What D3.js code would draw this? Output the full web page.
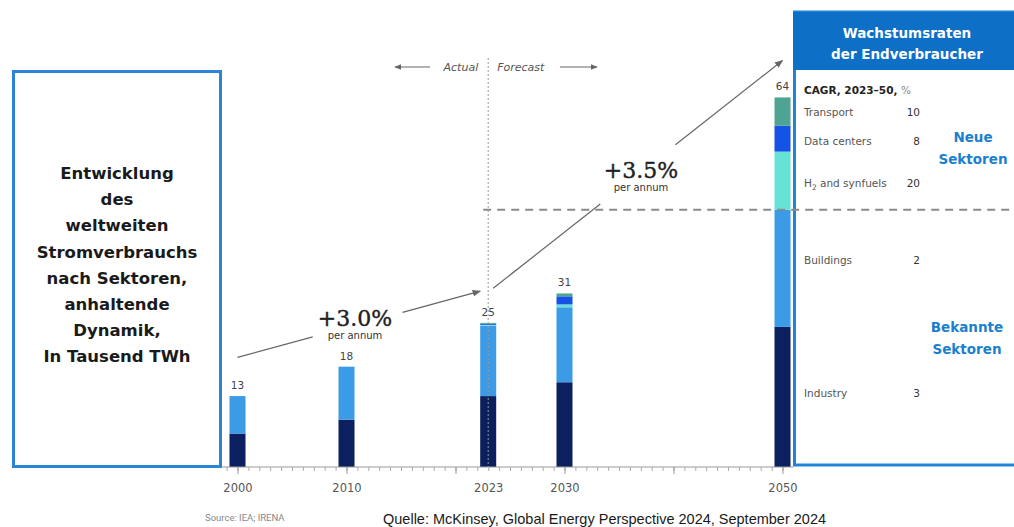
<!DOCTYPE html>
<html><head><meta charset="utf-8">
<script src="https://cdn.jsdelivr.net/npm/d3@7"></script>
<style>
html,body{margin:0;padding:0;background:#fff;}
svg{display:block;}
</style></head>
<body>
<svg id="c" width="1014" height="527"></svg>
<script>
// ---- data ----
const years = [2000, 2010, 2023, 2030, 2050];
const totals = [13, 18, 25, 31, 64];
const sectorNames = ["Industry", "Buildings", "H2 and synfuels", "Data centers", "Transport"];
const industry = [5.8, 8.2, 12.3, 14.7, 24.3];
const buildings = [6.5, 9.2, 12.2, 13.0, 20.3];
const h2Synfuels = [0, 0, 0.15, 0.5, 10.1];
const dataCenters = [0, 0, 0.2, 1.4, 4.5];
const transport = [0, 0, 0.15, 0.5, 4.9];
const sectorColors = ["#0c1f5f", "#3b9be6", "#66e3d6", "#1553e6", "#4fa392"];
const tickYears = [2000, 2010, 2023, 2030, 2050];
const majorTickYears = [2000, 2010, 2020, 2030, 2040, 2050];
const cagrLabels = ["Transport", "Data centers", "H2 and synfuels", "Buildings", "Industry"];
const cagrValues = [10, 8, 20, 2, 3];
const growthLabels = ["+3.0%", "+3.5%"];
const titleLines = ["Entwicklung", "des", "weltweiten", "Stromverbrauchs", "nach Sektoren,", "anhaltende", "Dynamik,", "In Tausend TWh"];

const series = [industry, buildings, h2Synfuels, dataCenters, transport];
const table = years.map((y, i) => {
  const o = {year: y, total: totals[i]};
  sectorNames.forEach((s, k) => o[s] = series[k][i]);
  return o;
});

const svg = d3.select("#c");
const x = d3.scaleLinear().domain([2000, 2050]).range([237.5, 782.5]);
const y = d3.scaleLinear().domain([0, 64]).range([467, 98]);
const color = d3.scaleOrdinal().domain(sectorNames).range(sectorColors);
const barW = 16;
const dv = "'DejaVu Sans', Verdana, sans-serif";

// ---- left title box ----
svg.append("rect").attr("x", 13.5).attr("y", 71.5).attr("width", 207).attr("height", 395)
  .attr("fill", "#fff").attr("stroke", "#2a86d4").attr("stroke-width", 3);
svg.append("g").selectAll("text").data(titleLines).join("text")
  .attr("x", 117).attr("y", (d, i) => 179 + i * 26.2)
  .attr("text-anchor", "middle")
  .style("font-family", dv).style("font-weight", 700)
  .style("font-size", "16.5px").attr("fill", "#1a1a1a").text(d => d);

// ---- right box ----
const rb = svg.append("g");
rb.append("rect").attr("x", 794.5).attr("y", 12).attr("width", 225).attr("height", 453)
  .attr("fill", "#fff").attr("stroke", "#1f84d6").attr("stroke-width", 3);
rb.append("rect").attr("x", 793).attr("y", 12).attr("width", 221).attr("height", 58).attr("fill", "#0d6fc5");
rb.append("text").attr("x", 907).attr("y", 38).attr("text-anchor", "middle")
  .style("font-family", dv).style("font-weight", 700).style("font-size", "13.5px")
  .attr("fill", "#fff").text("Wachstumsraten");
rb.append("text").attr("x", 907).attr("y", 59).attr("text-anchor", "middle")
  .style("font-family", dv).style("font-weight", 700).style("font-size", "13.5px")
  .attr("fill", "#fff").text("der Endverbraucher");

// ---- stacked bars ----
const stack = d3.stack().keys(sectorNames)(table);
svg.append("g").selectAll("g").data(stack).join("g")
  .attr("fill", d => color(d.key))
  .selectAll("rect").data(d => d).join("rect")
  .attr("x", d => x(d.data.year) - barW / 2)
  .attr("width", barW)
  .attr("y", d => y(d[1]))
  .attr("height", d => Math.max(0, y(d[0]) - y(d[1])));

// value labels
svg.append("g").selectAll("text").data(table).join("text")
  .attr("x", d => x(d.year)).attr("y", d => y(d3.sum(sectorNames, s => d[s])) - 7)
  .attr("text-anchor", "middle")
  .style("font-family", dv).style("font-size", "10.5px").attr("fill", "#444")
  .text(d => d.total);

// ---- axis ----
const axisG = svg.append("g").attr("transform", `translate(0,${y(0)})`);
axisG.append("line").attr("x1", x(1998.6)).attr("x2", x(2051)).attr("stroke", "#999").attr("stroke-width", 1.2);
axisG.append("g").call(d3.axisBottom(x).tickValues(d3.range(1999, 2051)).tickSize(4).tickFormat(""))
  .call(g => g.select(".domain").remove())
  .call(g => g.selectAll("line").attr("stroke", "#aaa"));
axisG.append("g").call(d3.axisBottom(x).tickValues(majorTickYears).tickSize(7).tickFormat(""))
  .call(g => g.select(".domain").remove())
  .call(g => g.selectAll("line").attr("stroke", "#999"));
axisG.append("g").call(d3.axisBottom(x).tickValues(tickYears).tickSize(0).tickPadding(17).tickFormat(d3.format("d")))
  .call(g => g.select(".domain").remove())
  .call(g => g.selectAll("text").style("font-family", dv).style("font-size", "11.5px").attr("fill", "#555"));

// ---- actual / forecast divider ----
svg.append("line").attr("x1", x(2023)).attr("x2", x(2023)).attr("y1", 58).attr("y2", y(0))
  .attr("stroke", "#999").attr("stroke-width", 1).attr("stroke-dasharray", "2,2");
const known = industry[4] + buildings[4];
svg.append("line").attr("x1", x(2023) - 5).attr("x2", 1014).attr("y1", y(known)).attr("y2", y(known))
  .attr("stroke", "#8a8a8a").attr("stroke-width", 2).attr("stroke-dasharray", "8,6");

const defs = svg.append("defs");
defs.append("marker").attr("id", "ah").attr("viewBox", "0 0 10 10").attr("refX", 9).attr("refY", 5)
  .attr("markerWidth", 7).attr("markerHeight", 7).attr("orient", "auto-start-reverse")
  .append("path").attr("d", "M0,1 L10,5 L0,9 z").attr("fill", "#666");

svg.append("line").attr("x1", 430).attr("x2", 395).attr("y1", 67).attr("y2", 67)
  .attr("stroke", "#666").attr("stroke-width", 1).attr("marker-end", "url(#ah)");
svg.append("line").attr("x1", 560).attr("x2", 597).attr("y1", 67).attr("y2", 67)
  .attr("stroke", "#666").attr("stroke-width", 1).attr("marker-end", "url(#ah)");
svg.append("text").attr("x", x(2023) - 10).attr("y", 71).attr("text-anchor", "end")
  .style("font-family", dv).style("font-style", "italic").style("font-size", "11px")
  .attr("fill", "#555").text("Actual");
svg.append("text").attr("x", x(2023) + 9).attr("y", 71).attr("text-anchor", "start")
  .style("font-family", dv).style("font-style", "italic").style("font-size", "11px")
  .attr("fill", "#555").text("Forecast");

// ---- growth arrows ----
function growthArrow(p0, p1, gapFrom, gapTo, label, lx, ly) {
  const lerp = t => [p0[0] + (p1[0] - p0[0]) * t, p0[1] + (p1[1] - p0[1]) * t];
  const a = lerp(gapFrom), b = lerp(gapTo);
  svg.append("line").attr("x1", p0[0]).attr("y1", p0[1]).attr("x2", a[0]).attr("y2", a[1])
    .attr("stroke", "#666").attr("stroke-width", 1.2);
  svg.append("line").attr("x1", b[0]).attr("y1", b[1]).attr("x2", p1[0]).attr("y2", p1[1])
    .attr("stroke", "#666").attr("stroke-width", 1.2).attr("marker-end", "url(#ah)");
  svg.append("text").attr("x", lx).attr("y", ly).attr("text-anchor", "middle")
    .style("font-family", "'DejaVu Serif', serif").style("font-size", "22px")
    .attr("fill", "#222").attr("stroke", "#222").attr("stroke-width", 0.4).text(label);
  svg.append("text").attr("x", lx).attr("y", ly + 13).attr("text-anchor", "middle")
    .style("font-family", dv).style("font-size", "10px").attr("fill", "#333").text("per annum");
}
growthArrow([x(2000), y(19)], [x(2023) - 8, y(30.5)], 0.31, 0.68, growthLabels[0], 355, 326);
growthArrow([x(2023) + 5, y(31)], [x(2050), y(70.5)], 0.37, 0.63, growthLabels[1], 641, 178);

// ---- CAGR table ----
rb.append("text").attr("x", 804).attr("y", 94)
  .style("font-family", dv).style("font-size", "10.5px").style("font-weight", 700).attr("fill", "#222")
  .text("CAGR, 2023–50, ").append("tspan").style("font-weight", 400).attr("fill", "#888").text("%");
const rowY = [116, 145, 187, 264, 397];
const rows = rb.append("g").selectAll("g").data(cagrLabels).join("g");
rows.append("text").attr("x", 804).attr("y", (d, i) => rowY[i])
  .style("font-family", dv).style("font-size", "10.5px").attr("fill", "#555")
  .each(function(d) {
    const t = d3.select(this);
    if (d.startsWith("H2")) {
      t.append("tspan").text("H");
      t.append("tspan").attr("dy", 3).style("font-size", "7.5px").text("2");
      t.append("tspan").attr("dy", -3).text(" and synfuels");
    } else t.text(d);
  });
rows.append("text").attr("x", 920).attr("y", (d, i) => rowY[i]).attr("text-anchor", "end")
  .style("font-family", dv).style("font-size", "10.5px").attr("fill", "#333")
  .text((d, i) => cagrValues[i]);

const groupLabels = [{t: ["Neue", "Sektoren"], x: 973, y: 142}, {t: ["Bekannte", "Sektoren"], x: 967, y: 332}];
groupLabels.forEach(gl => {
  rb.append("g").selectAll("text").data(gl.t).join("text")
    .attr("x", gl.x).attr("y", (d, i) => gl.y + i * 21.5).attr("text-anchor", "middle")
    .style("font-family", dv).style("font-weight", 700).style("font-size", "13.5px").attr("fill", "#1b7fd0")
    .text(d => d);
});

// ---- footer ----
svg.append("text").attr("x", 205).attr("y", 521)
  .style("font-family", "Roboto, sans-serif").style("font-size", "9.5px").attr("fill", "#888").text("Source: IEA; IRENA");
svg.append("text").attr("x", 383).attr("y", 524)
  .style("font-family", "'Liberation Sans', Arial, sans-serif").style("font-size", "14.5px").attr("fill", "#1a1a1a")
  .text("Quelle: McKinsey, Global Energy Perspective 2024, September 2024");
</script>
</body></html>
